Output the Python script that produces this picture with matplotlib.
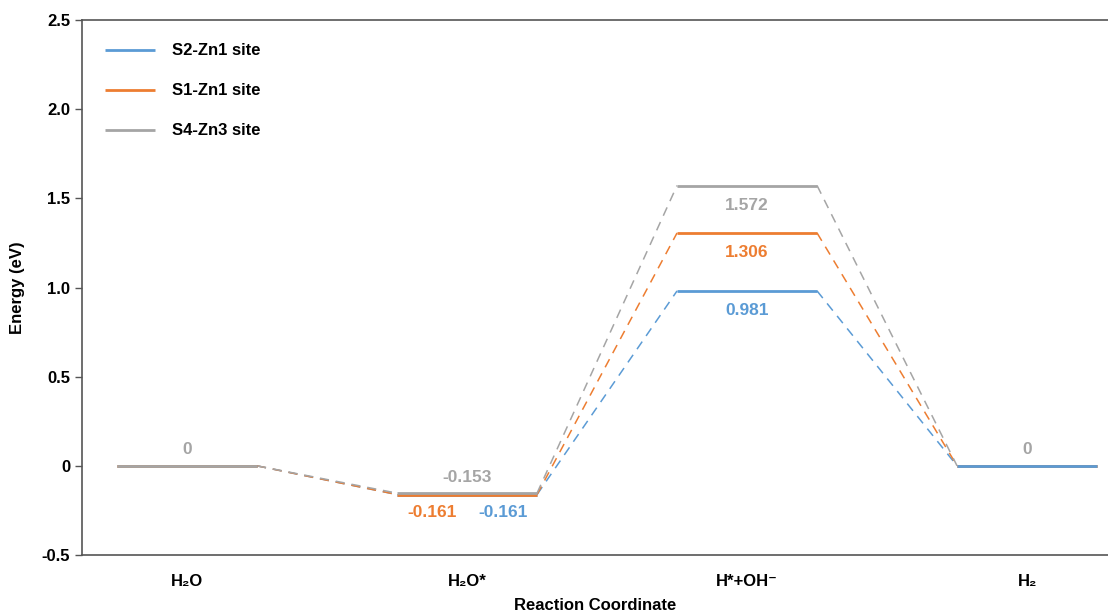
import matplotlib
matplotlib.use("Agg")
import matplotlib.pyplot as plt
from matplotlib.ticker import FuncFormatter

plt.rcParams['font.family'] = ['Liberation Sans', 'DejaVu Sans']
plt.rcParams['font.weight'] = 'bold'
plt.rcParams['axes.labelweight'] = 'bold'

steps = ["H₂O", "H₂O*", "H*+OH⁻", "H₂"]
sites = ["S2-Zn1 site", "S1-Zn1 site", "S4-Zn3 site"]
energies = {
    "S2-Zn1 site": [0, -0.161, 0.981, 0],
    "S1-Zn1 site": [0, -0.161, 1.306, 0],
    "S4-Zn3 site": [0, -0.153, 1.572, 0],
}
colors = {"S2-Zn1 site": "#5b9bd5", "S1-Zn1 site": "#ed7d31", "S4-Zn3 site": "#a5a5a5"}

fig = plt.figure(figsize=(11.08, 6.12), dpi=100)
ax = fig.add_axes([0.074, 0.0931, 0.926, 0.8742])

half = 0.25
for k, site in enumerate(sites):
    e = energies[site]
    c = colors[site]
    for i in range(len(steps)):
        # gray on top at the start, blue on top at the end
        z = 3 + k if i < len(steps) - 1 else 6 - k
        ax.plot([i - half, i + half], [e[i], e[i]], color=c, lw=2, zorder=z,
                label=site if i == 0 else None, solid_capstyle='butt')
        if i < len(steps) - 1:
            ax.plot([i + half, i + 1 - half], [e[i], e[i + 1]], color=c, lw=1.1,
                    ls=(0, (6, 4.5)), zorder=2)

# value labels
gray, orange, blue = colors["S4-Zn3 site"], colors["S1-Zn1 site"], colors["S2-Zn1 site"]
fs = 12.5
ax.text(0, energies["S4-Zn3 site"][0] + 0.09, "0", color=gray, ha='center', va='center', fontsize=fs)
ax.text(3, energies["S4-Zn3 site"][3] + 0.09, "0", color=gray, ha='center', va='center', fontsize=fs)
ax.text(1, energies["S4-Zn3 site"][1] + 0.09, "-0.153", color=gray, ha='center', va='center', fontsize=fs)
ax.text(0.875, energies["S1-Zn1 site"][1] - 0.1, "-0.161", color=orange, ha='center', va='center', fontsize=fs)
ax.text(1.13, energies["S2-Zn1 site"][1] - 0.1, "-0.161", color=blue, ha='center', va='center', fontsize=fs)
for site in sites:
    v = energies[site][2]
    ax.text(2, v - 0.11, f"{v:.3f}", color=colors[site], ha='center', va='center', fontsize=fs)

ax.set_xlim(-0.375, 3.289)
ax.set_ylim(-0.5, 2.5)
ax.set_yticks([-0.5, 0, 0.5, 1.0, 1.5, 2.0, 2.5])
ax.yaxis.set_major_formatter(FuncFormatter(lambda v, p: "0" if abs(v) < 1e-9 else f"{v:.1f}"))
ax.set_xticks(range(len(steps)))
ax.set_xticklabels(steps)
ax.tick_params(axis='x', length=0, pad=14, labelsize=12)
ax.tick_params(axis='y', length=5, width=1, labelsize=12, color='#555555')
ax.spines['right'].set_visible(False)
for s in ['left', 'bottom', 'top']:
    ax.spines[s].set_color('#555555')
    ax.spines[s].set_linewidth(1.2)

ax.set_xlabel("Reaction Coordinate", fontsize=12, labelpad=6)
ax.set_ylabel("Energy (eV)", fontsize=12, labelpad=12)

ax.legend(loc='upper left', frameon=False, fontsize=12, handlelength=3.0,
          labelspacing=1.5, handletextpad=1.0, bbox_to_anchor=(0.0, 1.0),
          borderaxespad=1.0)

fig.savefig("out.png", dpi=100)
